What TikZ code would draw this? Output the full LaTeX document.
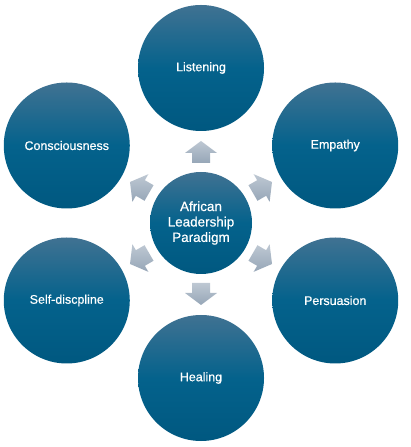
\documentclass[tikz,border=0pt]{standalone}
\usepackage{fontspec}
\setmainfont{Liberation Sans}
\newfontfamily\lblfont[FakeBold=0.6]{Liberation Sans}
\usetikzlibrary{calc}
\definecolor{circtop}{RGB}{64,114,146}
\definecolor{circmid}{RGB}{4,98,140}
\definecolor{circbot}{RGB}{0,88,128}
\definecolor{arrtop}{RGB}{190,200,211}
\definecolor{arrbot}{RGB}{150,166,183}
\begin{document}
\begin{tikzpicture}[x=1bp,y=1bp,
  bubble/.style={circle,minimum size=126bp,inner sep=0pt,
    top color=circtop,bottom color=circbot,middle color=circmid,
    text=white,font=\lblfont\fontsize{12.5}{15}\selectfont,align=center},
  hub/.style={bubble,minimum size=102bp,font=\lblfont\fontsize{13.5}{15.5}\selectfont},
  blockarrow/.style={top color=arrtop,bottom color=arrbot,draw=none}]
\useasboundingbox (0,0) rectangle (410,447);
\coordinate (C) at (201,224);
\node[hub] (hub) at (C) {African\\Leadership\\Paradigm};
\node[bubble] (listen) at ($(C)+(90:155)$) {Listening};
\node[bubble] (empathy) at ($(C)+(30:155)$) {Empathy};
\node[bubble] (persuasion) at ($(C)+(-30:155)$) {Persuasion};
\node[bubble] (healing) at ($(C)+(-90:155)$) {Healing};
\node[bubble] (selfd) at ($(C)+(210:155)$) {Self-discpline};
\node[bubble] (consc) at ($(C)+(150:155)$) {Consciousness};
\foreach \a in {90,30,-30,-90,210,150}{
  \begin{scope}[shift={($(C)+(\a:71)$)},rotate=\a-90]
    \shade[blockarrow] (-9,-11) -- (9,-11) -- (9,-1) -- (16,-1) -- (0,11) -- (-16,-1) -- (-9,-1) -- cycle;
  \end{scope}
}
\end{tikzpicture}
\end{document}
